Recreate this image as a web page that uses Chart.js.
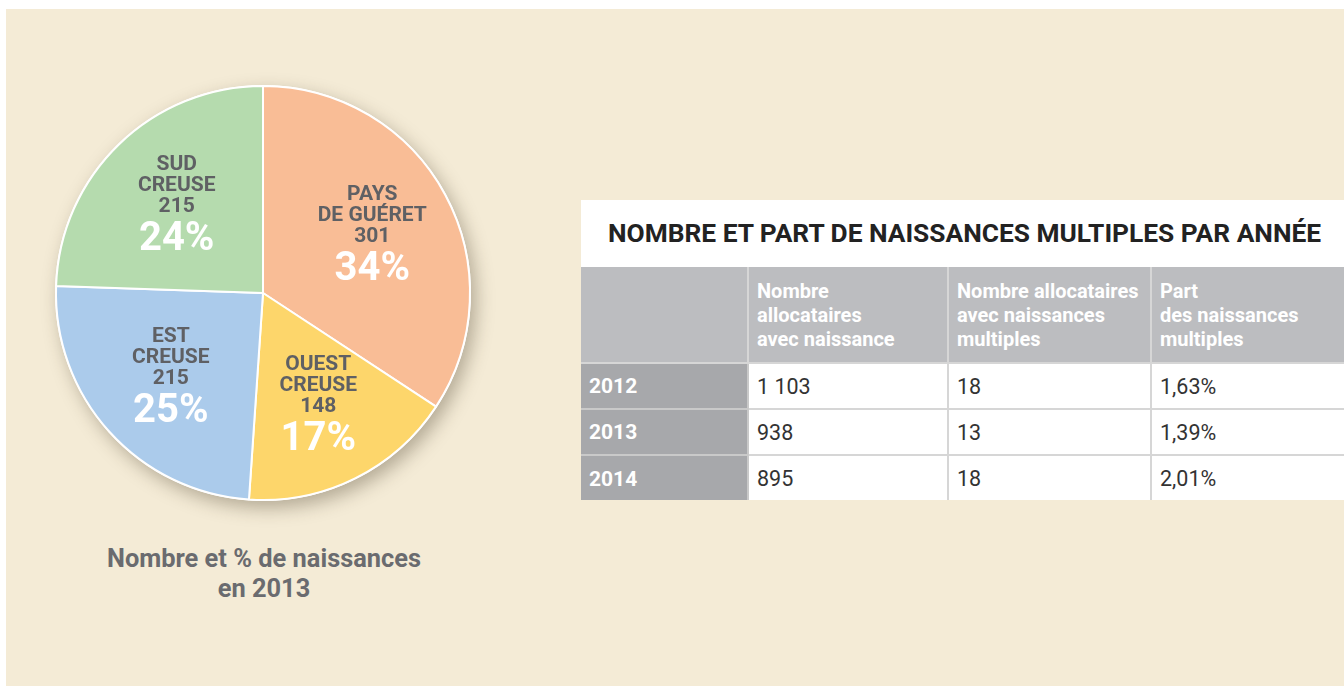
<!DOCTYPE html>
<html lang="fr">
<head>
<meta charset="utf-8">
<script src="https://cdn.jsdelivr.net/npm/chart.js@4"></script>
<style>
  html, body { margin: 0; padding: 0; background: #fff; }
  body { width: 1344px; height: 686px; position: relative; overflow: hidden; font-family: Roboto, "Noto Sans", sans-serif; }
  #panel { position: absolute; left: 6px; top: 9px; width: 1338px; height: 677px; background: #f4ebd6; }
  #pieBox { position: absolute; left: 28px; top: 58px; width: 470px; height: 470px; }
  #caption { position: absolute; left: 64px; width: 400px; top: 543px; text-align: center; color: #6a6b6f; font-weight: 700; font-size: 25.4px; line-height: 30px; }
  #tableBox { position: absolute; left: 581px; top: 200px; width: 763px; height: 300px; background: #fff; overflow: hidden; }
  #tableTitle { height: 67px; line-height: 66px; text-align: center; font-weight: 700; font-size: 26.3px; color: #222; white-space: nowrap; padding-left: 4px; box-sizing: border-box; }
  table { border-collapse: collapse; width: 763px; table-layout: fixed; }
  td, th { border: 2px solid #d6d6d6; padding: 0 8px; text-align: left; vertical-align: middle; }
  tr:first-child th, tr:first-child td { border-top: none; }
  th { background: #bcbdc0; color: #fff; font-weight: 700; font-size: 20px; line-height: 24px; height: 96px; box-sizing: border-box; }
  td { color: #333; font-size: 21.5px; font-weight: 400; height: 46px; box-sizing: border-box; }
  td.year { background: #a7a8ab; color: #fff; font-weight: 700; font-size: 21px; border-color: #c9c9c9; }
  td:first-child, th:first-child { border-left: none; }
  td:last-child, th:last-child { border-right: none; }
  tr:last-child td { border-bottom: none; }
</style>
</head>
<body>
<div id="panel"></div>
<div id="pieBox"><canvas id="pieChart"></canvas></div>
<div id="caption">Nombre et % de naissances<br>en 2013</div>
<div id="tableBox">
  <div id="tableTitle"></div>
  <table id="birthTable"></table>
</div>
<script>
// Données du camembert (naissances 2013 par territoire)
const sliceNames = [['PAYS', 'DE GUÉRET'], ['OUEST', 'CREUSE'], ['EST', 'CREUSE'], ['SUD', 'CREUSE']];
const sliceValues = [301, 148, 215, 215];
const slicePercents = ['34%', '17%', '25%', '24%'];
const sliceColors = ['#f9bd96', '#fdd66b', '#abcbeb', '#b5dbae'];

// Données du tableau
const tableTitle = 'NOMBRE ET PART DE NAISSANCES MULTIPLES PAR ANNÉE';
const tableHeaders = ['', 'Nombre<br>allocataires<br>avec naissance', 'Nombre allocataires<br>avec naissances<br>multiples', 'Part<br>des naissances<br>multiples'];
const years = ['2012', '2013', '2014'];
const birthsCount = ['1 103', '938', '895'];
const multipleCount = ['18', '13', '18'];
const multipleShare = ['1,63%', '1,39%', '2,01%'];

// Tableau HTML
document.getElementById('tableTitle').textContent = tableTitle;
const table = document.getElementById('birthTable');
const widths = [167, 200, 203, 193];
let html = '<colgroup>' + widths.map(w => `<col style="width:${w}px">`).join('') + '</colgroup>';
html += '<tr>' + tableHeaders.map(h => `<th>${h}</th>`).join('') + '</tr>';
years.forEach((y, i) => {
  html += `<tr><td class="year">${y}</td><td>${birthsCount[i]}</td><td>${multipleCount[i]}</td><td>${multipleShare[i]}</td></tr>`;
});
table.innerHTML = html;

// Ombre portée sous le camembert
const shadowPlugin = {
  id: 'pieShadow',
  beforeDatasetsDraw(chart) {
    const arc = chart.getDatasetMeta(0).data[0];
    if (!arc) return;
    const { x, y, outerRadius } = arc.getProps(['x', 'y', 'outerRadius'], true);
    const ctx = chart.ctx;
    ctx.save();
    ctx.shadowColor = 'rgba(60, 50, 30, 0.35)';
    ctx.shadowBlur = 18;
    ctx.shadowOffsetX = 5;
    ctx.shadowOffsetY = 7;
    ctx.beginPath();
    ctx.arc(x, y, outerRadius + 1, 0, Math.PI * 2);
    ctx.fillStyle = '#ffffff';
    ctx.fill();
    ctx.restore();
  }
};

// Étiquettes dans les parts
const labelPlugin = {
  id: 'sliceLabels',
  afterDatasetsDraw(chart) {
    const ctx = chart.ctx;
    chart.getDatasetMeta(0).data.forEach((arc, i) => {
      const p = arc.getProps(['x', 'y', 'startAngle', 'endAngle', 'outerRadius'], true);
      const mid = (p.startAngle + p.endAngle) / 2;
      const r = p.outerRadius * 0.6;
      const cx = p.x + Math.cos(mid) * r;
      const cy = p.y + Math.sin(mid) * r;
      const lines = sliceNames[i].concat([String(sliceValues[i])]);
      const top = cy - 39;
      ctx.save();
      ctx.textAlign = 'center';
      ctx.textBaseline = 'middle';
      ctx.fillStyle = '#5f6064';
      ctx.font = '700 21px Roboto';
      lines.forEach((t, k) => ctx.fillText(t, cx, top + k * 21));
      ctx.fillStyle = '#ffffff';
      ctx.font = '700 40px Roboto';
      ctx.fillText(slicePercents[i], cx, top + 2 * 21 + 33);
      ctx.restore();
    });
  }
};

new Chart(document.getElementById('pieChart'), {
  type: 'pie',
  data: {
    labels: sliceNames.map(n => n.join(' ')),
    datasets: [{
      data: sliceValues,
      backgroundColor: sliceColors,
      borderColor: '#ffffff',
      borderWidth: 2
    }]
  },
  options: {
    responsive: true,
    maintainAspectRatio: false,
    animation: false,
    layout: { padding: 27 },
    plugins: {
      legend: { display: false },
      tooltip: { enabled: false }
    }
  },
  plugins: [shadowPlugin, labelPlugin]
});
</script>
</body>
</html>
